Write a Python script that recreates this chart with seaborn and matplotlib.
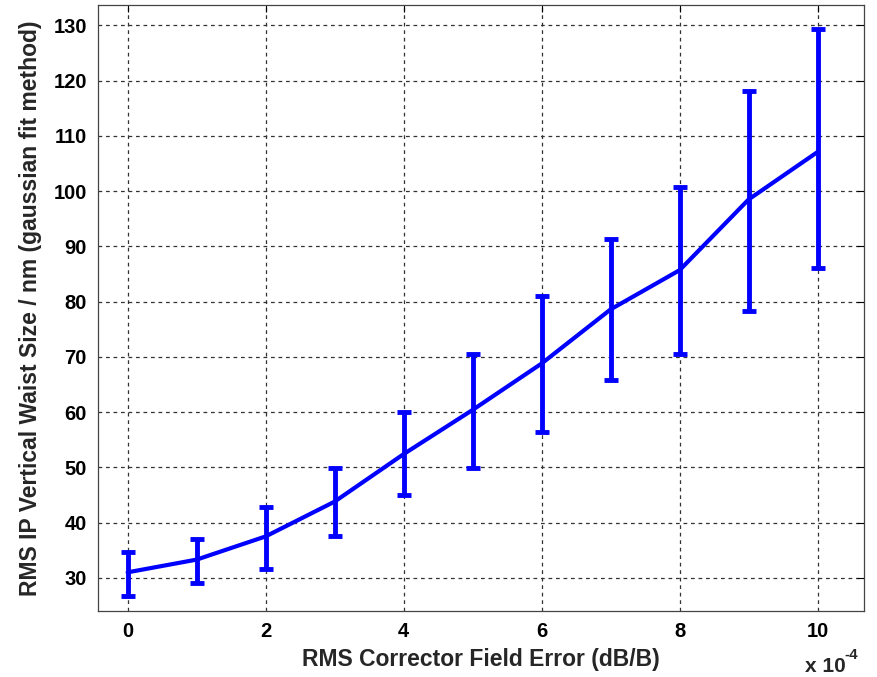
import numpy as np
import pandas as pd
import matplotlib
matplotlib.use('Agg')
import matplotlib.pyplot as plt
import seaborn as sns

# Valores
field_error = [0, 1, 2, 3, 4, 5, 6, 7, 8, 9, 10]          # x 10^-4
waist_size = [31.0, 33.3, 37.5, 43.8, 52.4, 60.4, 68.8, 78.6, 85.7, 98.5, 107.1]
err_upper = [34.6, 37.0, 42.9, 49.9, 60.1, 70.5, 81.1, 91.4, 100.8, 118.2, 129.3]
err_lower = [26.8, 29.1, 31.6, 37.5, 45.0, 49.8, 56.4, 65.9, 70.6, 78.3, 86.1]

df = pd.DataFrame({'x': field_error, 'y': waist_size,
                   'hi': err_upper, 'lo': err_lower})

sns.set_style('white')
plt.rcParams['font.family'] = ['Liberation Sans', 'DejaVu Sans']
plt.rcParams['font.weight'] = 'bold'

fig = plt.figure(figsize=(8.77, 6.77), dpi=100)
ax = fig.add_axes([0.1117, 0.0975, 0.8733, 0.8951])

# Linha principal
sns.lineplot(data=df, x='x', y='y', color='#0000ff', linewidth=3, ax=ax, zorder=3)

# Barras de erro
yerr = np.array([df['y'] - df['lo'], df['hi'] - df['y']])
ax.errorbar(df['x'], df['y'], yerr=yerr, fmt='none', ecolor='#0000ff',
            elinewidth=3.5, capsize=5, capthick=3.5, zorder=3)

ax.set_xlim(-0.43, 10.67)
ax.set_ylim(24.0, 133.7)
ax.set_xticks([0, 2, 4, 6, 8, 10])
ax.set_yticks(range(30, 131, 10))

ax.grid(True, color='#333333', linestyle=(0, (3, 3)), linewidth=0.9)
ax.tick_params(direction='in', top=True, right=True, length=5, width=0.8,
               labelsize=14.5, colors='black', pad=8)
for lab in ax.get_xticklabels() + ax.get_yticklabels():
    lab.set_fontweight('bold')
for s in ax.spines.values():
    s.set_color('#444444')
    s.set_linewidth(0.9)

ax.set_xlabel('RMS Corrector Field Error (dB/B)', fontsize=16.5,
              fontweight='bold', labelpad=5)
ax.set_ylabel('RMS IP Vertical Waist Size / nm (gaussian fit method)',
              fontsize=16.5, fontweight='bold', labelpad=8)

# Multiplicador do eixo x (estilo MATLAB)
fig.text(0.918, 0.008, 'x 10', fontsize=15, fontweight='bold',
         ha='left', va='baseline')
fig.text(0.963, 0.026, '-4', fontsize=11, fontweight='bold',
         ha='left', va='baseline')

fig.savefig('out.png', dpi=100)
